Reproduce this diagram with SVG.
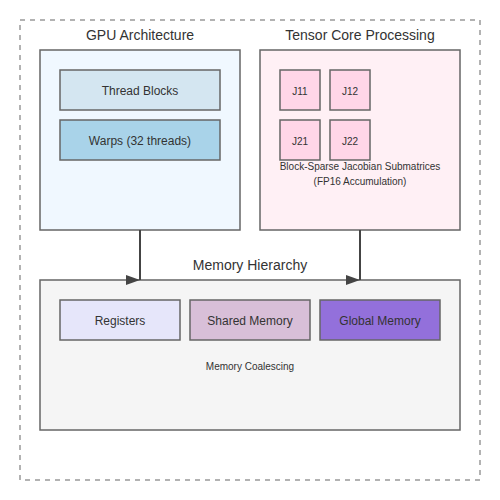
<svg xmlns="http://www.w3.org/2000/svg" width="500" height="500" viewBox="0 0 500 500">
<style>
text{font-family:"Liberation Sans",Arial,sans-serif;fill:#333;text-anchor:middle}
.title{font-size:14px}
.lbl{font-size:12px}
.sm{font-size:10px}
.box{stroke:#666;stroke-width:1.5}
.conn{stroke:#444;stroke-width:2;fill:none}
</style>
<rect x="20" y="20" width="460" height="460" fill="#fff" stroke="#999" stroke-width="1.5" stroke-dasharray="5,5"/>
<g id="gpu">
<text class="title" x="140" y="40">GPU Architecture</text>
<rect class="box" x="40" y="50" width="200" height="180" fill="#f0f8ff"/>
</g>
<g id="thread-blocks"><rect class="box" x="60" y="70" width="160" height="40" fill="#d4e6f1"/><text class="lbl" x="140" y="95">Thread Blocks</text></g>
<g id="warps"><rect class="box" x="60" y="120" width="160" height="40" fill="#a9d3e9"/><text class="lbl" x="140" y="145">Warps (32 threads)</text></g>
<g id="tensor">
<text class="title" x="360" y="40">Tensor Core Processing</text>
<rect class="box" x="260" y="50" width="200" height="180" fill="#fff0f5"/>
<text class="sm" x="360" y="170">Block-Sparse Jacobian Submatrices</text>
<text class="sm" x="360" y="185">(FP16 Accumulation)</text>
</g>
<g id="j11"><rect class="box" x="280" y="70" width="40" height="40" fill="#ffd6e8"/><text class="sm" x="300" y="95">J11</text></g>
<g id="j12"><rect class="box" x="330" y="70" width="40" height="40" fill="#ffd6e8"/><text class="sm" x="350" y="95">J12</text></g>
<g id="j21"><rect class="box" x="280" y="120" width="40" height="40" fill="#ffd6e8"/><text class="sm" x="300" y="145">J21</text></g>
<g id="j22"><rect class="box" x="330" y="120" width="40" height="40" fill="#ffd6e8"/><text class="sm" x="350" y="145">J22</text></g>
<g id="memory">
<text class="title" x="250" y="270">Memory Hierarchy</text>
<rect class="box" x="40" y="280" width="420" height="150" fill="#f5f5f5"/>
<text class="sm" x="250" y="370">Memory Coalescing</text>
</g>
<g id="registers"><rect class="box" x="60" y="300" width="120" height="40" fill="#e6e6fa"/><text class="lbl" x="120" y="325">Registers</text></g>
<g id="shared"><rect class="box" x="190" y="300" width="120" height="40" fill="#d8bfd8"/><text class="lbl" x="250" y="325">Shared Memory</text></g>
<g id="global"><rect class="box" x="320" y="300" width="120" height="40" fill="#9370db"/><text class="lbl" x="380" y="325">Global Memory</text></g>
<g id="connectors">
<path class="conn" d="M140,230 L140,280"/>
<polygon points="126,275 140,280 126,285" fill="#444"/>
<path class="conn" d="M360,230 L360,280"/>
<polygon points="346,275 360,280 346,285" fill="#444"/>
</g>
</svg>
